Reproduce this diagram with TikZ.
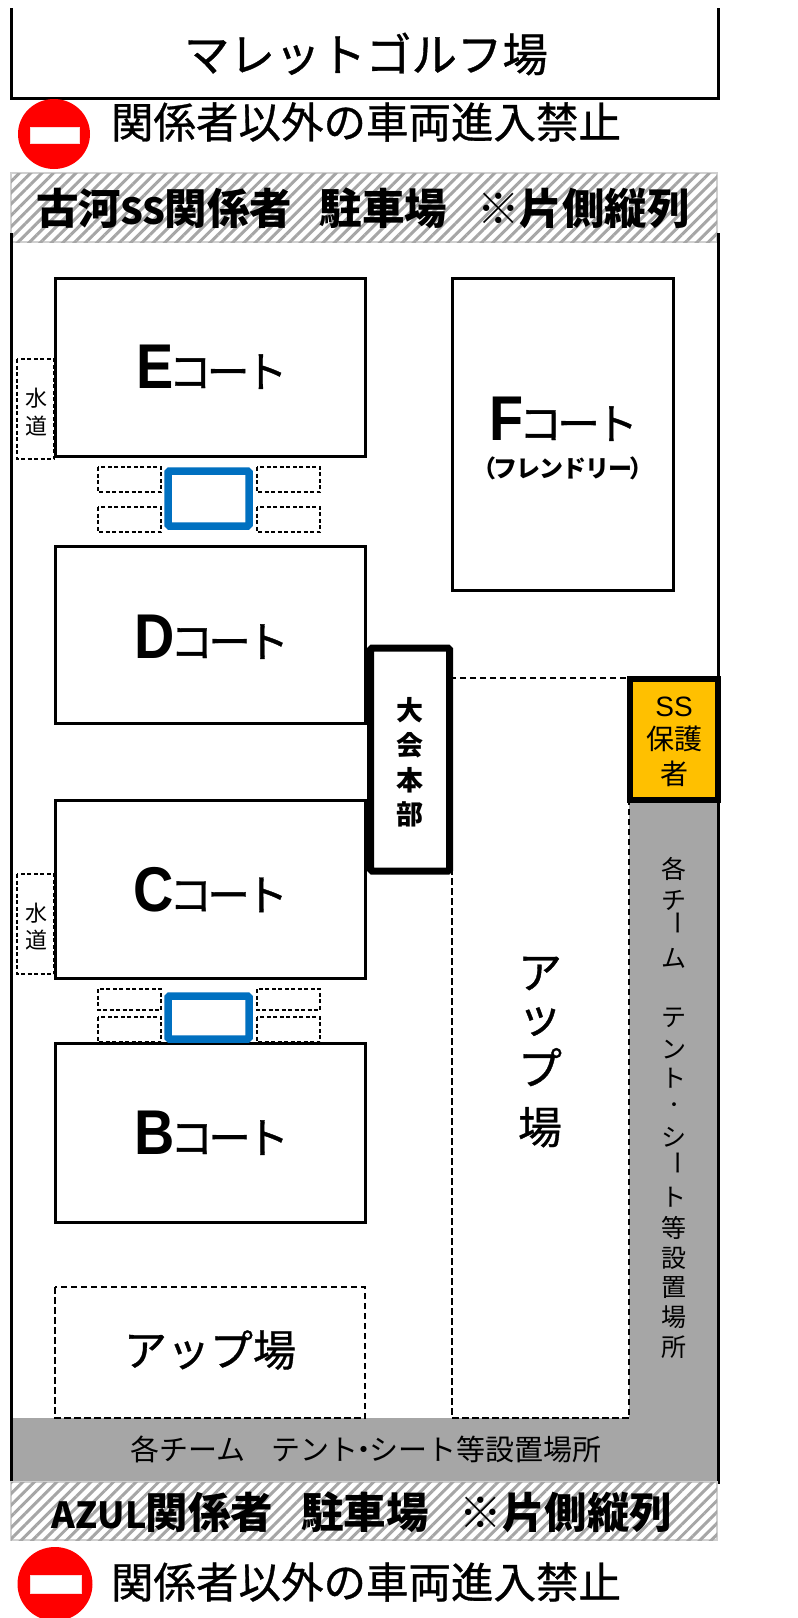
\documentclass[tikz,border=0pt]{standalone}
\usepackage{fontspec}
\setmainfont{Noto Sans CJK JP}
\newfontfamily\medfont{Noto Sans CJK JP}[FakeBold=0.8]
\newfontfamily\latinbold{Liberation Sans}[BoldFont=* Bold]
\newfontfamily\latinreg{Liberation Sans}
\usetikzlibrary{patterns.meta}
\definecolor{gfill}{HTML}{A6A6A6}
\definecolor{hatchline}{HTML}{A6A6A6}
\definecolor{hatchedge}{HTML}{D0D0D0}
\definecolor{bluebox}{HTML}{0070C0}
\definecolor{ssorange}{HTML}{FFC000}
\newcommand{\fsz}[1]{\fontsize{#1}{#1}\selectfont}
\newcommand{\courtlabel}[1]{\scalebox{0.9}[1.02]{\fsz{62}\latinbold\bfseries #1}\raisebox{1pt}{\fsz{43}\medfont\kern-5pt コ\kern-5pt ー\kern-5pt ト}}
\tikzset{
  court/.style={draw=black,line width=3pt,fill=white},
  dashbox/.style={draw=black,line width=1.6pt,dash pattern=on 4pt off 2.5pt,fill=white},
  updash/.style={draw=black,line width=2.4pt,dash pattern=on 6.5pt off 3.5pt,fill=white},
  bluerect/.style={draw=bluebox,line width=7.5pt,rounded corners=1.5pt,fill=white},
  hatchband/.style={draw=hatchedge,line width=1.2pt,fill=white,postaction={pattern={Lines[angle=45,distance=8pt,line width=3pt]},pattern color=hatchline}},
  wall/.style={draw=black,line width=3pt},
  lbl/.style={inner sep=0pt,outer sep=0pt,anchor=center,text=black},
}
\begin{document}
\begin{tikzpicture}[x=1pt,y=-1pt]
\useasboundingbox (0,0) rectangle (798,1618);
\clip (0,0) rectangle (798,1618);
\fill[white] (0,0) rectangle (798,1618);

% top
\draw[wall] (11,8) -- (11,98) -- (718,98) -- (718,8);
\node[lbl] (title) at (366,54) {\fsz{45.5}\medfont マレットゴルフ場};
\fill[red] (54,134) ellipse (36 and 35);
\draw[fill=white,draw=white!85!red,line width=.6pt] (30,127) rectangle (79,143);
\node[lbl] (notop) at (366,122) {\fsz{42.5}\medfont 関係者以外の車両進入禁止};

% parking band top
\draw[hatchband] (11,173) rectangle (717,242);
\node[lbl] (parktop) at (363,208) {\fsz{42.5}\bfseries 古河\kern-1pt{\fsz{36}SS}\kern-1pt 関係者\hspace{27.5pt}駐車場\hspace{30pt}※片側縦列};
\draw[wall] (11,233) -- (11,1484);
\draw[wall] (718,233) -- (718,1484);

% grey L
\fill[gfill] (629,803) -- (718,803) -- (718,1482) -- (11,1482) -- (11,1418) -- (629,1418) -- cycle;
\draw[wall] (11,1418) -- (11,1484);
\draw[wall] (718,803) -- (718,1484);

% courts
\draw[court] (55,278) rectangle (365,456);
\draw[court] (55,546) rectangle (365,723);
\draw[court] (55,800) rectangle (365,978);
\draw[court] (55,1043) rectangle (365,1222);
\draw[court] (452,278) rectangle (673,590);
\node[lbl] (ecourt) at (212,367) {\courtlabel{E}};
\node[lbl] (dcourt) at (212,637) {\courtlabel{D}};
\node[lbl] (ccourt) at (211,890) {\courtlabel{C}};
\node[lbl] (bcourt) at (212,1133) {\courtlabel{B}};
\node[lbl] (fcourt) at (564,419) {\courtlabel{F}};
\node[lbl] (fsub) at (563,468) {\fsz{24}\bfseries （\kern-3pt フ\kern-1pt レ\kern-1pt ン\kern-1pt ド\kern-1pt リ\kern-1pt ー\kern-3pt ）};

% water
\draw[dashbox] (17,359) rectangle (54,459);
\draw[dashbox] (17,874) rectangle (54,974);
\node[lbl] (wa1) at (36,398) {\fsz{22}水};
\node[lbl] (wa2) at (36,426) {\fsz{22}道};
\node[lbl] (wb1) at (36,913) {\fsz{22}水};
\node[lbl] (wb2) at (36,940) {\fsz{22}道};

% benches upper
\draw[dashbox] (98,467) rectangle (161,492);
\draw[dashbox] (98,507) rectangle (161,532);
\draw[dashbox] (257,467) rectangle (320,492);
\draw[dashbox] (257,507) rectangle (320,532);
\draw[bluerect] (168,471) rectangle (249,526);
% benches lower
\draw[dashbox] (98,989) rectangle (161,1010);
\draw[dashbox] (98,1017) rectangle (161,1042);
\draw[dashbox] (257,989) rectangle (320,1010);
\draw[dashbox] (257,1017) rectangle (320,1042);
\draw[bluerect] (168,996) rectangle (249,1039);

% up areas
\draw[updash] (55,1287) rectangle (365,1418);
\node[lbl] (uplow) at (210,1350) {\fsz{43}\medfont アップ場};
\draw[updash] (452,678) rectangle (629,1418);
\node[lbl,align=center,font=\fsz{44}\medfont] (uptall) at (540,1052) {ア\\ッ\\[8pt]プ\\[15pt]場};

% headquarters
\draw[draw=black,line width=7pt,rounded corners=1.5pt,fill=white] (370.5,648) rectangle (449.5,871);
\foreach \c/\y [count=\i] in {大/710,会/745,本/780,部/814}
  \node[lbl] (hq\i) at (410,\y) {\fsz{27}\bfseries \c};

% SS
\draw[draw=black,line width=6pt,fill=ssorange] (630,679) rectangle (718,800);
\node[lbl] (ss1) at (674,707) {\fsz{28}\latinreg SS};
\node[lbl] (ss2) at (674,739) {\fsz{28}保護};
\node[lbl] (ss3) at (674,774) {\fsz{28}者};

% grey right vertical text
\foreach \c/\y [count=\i] in {各/869,チ/900,ム/958,テ/1018,ン/1050,ト/1078,シ/1137,ト/1197,等/1228,設/1258,置/1288,場/1317,所/1347}
  \node[lbl] (gv\i) at (674,\y) {\fsz{25}\c};
\node[lbl,rotate=-90] (gvb1) at (674,923) {\fsz{25}ー};
\node[lbl,rotate=-90] (gvb2) at (674,1163) {\fsz{25}ー};
\node[lbl] (gvdot) at (674,1107) {\fsz{18}・};

% grey bottom text
\node[lbl] (gbot) at (366,1449) {\fsz{29}各チーム\hspace{26pt}テント\kern-9pt ・\kern-9pt シート等設置場所};

% parking band bottom
\draw[hatchband] (11,1482) rectangle (717,1540);
\node[lbl] (parkbot) at (362,1512) {\fsz{42.5}\bfseries {\fsz{36}AZUL}\kern-1pt 関係者\hspace{28pt}駐車場\hspace{31pt}※片側縦列};
\fill[red] (55,1584) ellipse (37.5 and 37);
\draw[fill=white,draw=white!85!red,line width=.6pt] (30,1575) rectangle (81,1593);
\node[lbl] (nobot) at (366,1582) {\fsz{42.5}\medfont 関係者以外の車両進入禁止};
\end{tikzpicture}
\end{document}
